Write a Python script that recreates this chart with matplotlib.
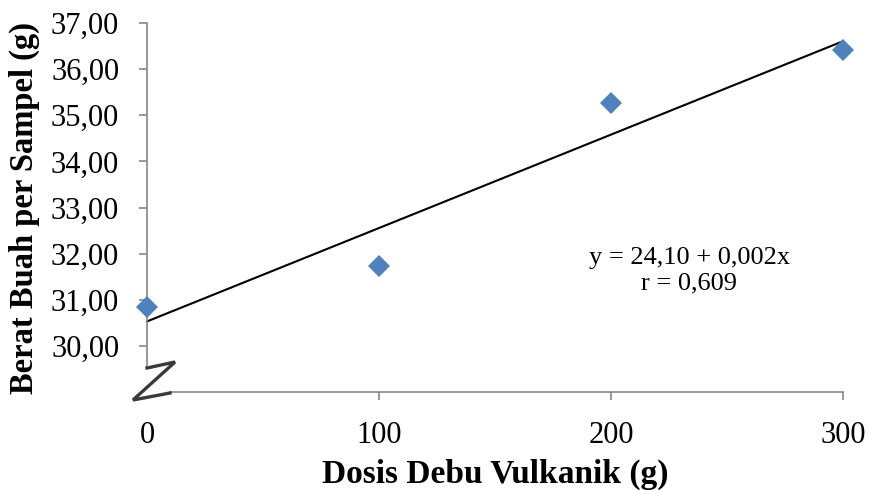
import numpy as np
import matplotlib
matplotlib.use("Agg")
import matplotlib.pyplot as plt
from matplotlib.lines import Line2D

# Data
dosis = [0, 100, 200, 300]
berat = [30.85, 31.73, 35.27, 36.42]
yticks = [30, 31, 32, 33, 34, 35, 36, 37]
xticks = [0, 100, 200, 300]
eq_text = "y = 24,10 + 0,002x\nr = 0,609"
xlabel = "Dosis Debu Vulkanik (g)"
ylabel = "Berat Buah per Sampel (g)"

plt.rcParams['font.family'] = ['Liberation Serif', 'DejaVu Serif']

W, H = 869, 490
fig = plt.figure(figsize=(W / 100, H / 100), dpi=100)
ax = fig.add_axes([147 / W, (H - 392) / H, (843 - 147) / W, (392 - 23) / H])

ax.set_xlim(0, 300)
ax.set_ylim(29.0, 37.0)

# trend line from fit
coef = np.polyfit(dosis, berat, 1)
xs = np.array([0, 300])
ax.plot(xs, np.polyval(coef, xs), color='black', lw=1.5, zorder=2, clip_on=False)

ax.plot(dosis, berat, linestyle='none', marker='D', markersize=11,
        color='#4F81BD', markeredgewidth=0, zorder=3, clip_on=False)

spine_col = '#868686'
for s in ['top', 'right']:
    ax.spines[s].set_visible(False)
for s in ['left', 'bottom']:
    ax.spines[s].set_color(spine_col)
    ax.spines[s].set_linewidth(1.2)
ax.spines['left'].set_bounds(29.55, 37)
ax.spines['bottom'].set_bounds(9.9, 300)

ax.set_yticks(yticks)
ax.set_yticklabels([f"{v:.2f}".replace('.', ',') for v in yticks])
ax.set_xticks(xticks)
ax.set_xticklabels([str(v) for v in xticks])
ax.tick_params(axis='both', colors=spine_col, labelcolor='black', direction='out',
               length=6, width=1.2, labelsize=22)
ax.tick_params(axis='y', pad=14)
ax.tick_params(axis='x', pad=15)
ax.xaxis.get_major_ticks()[0].tick1line.set_visible(False)

ax.set_xlabel(xlabel, fontsize=24, fontweight='bold', labelpad=6)
ax.set_ylabel(ylabel, fontsize=23.5, fontweight='bold', labelpad=8)

ax.text(0.779, 0.328, eq_text, transform=ax.transAxes, ha='center', va='center',
        fontsize=19, linespacing=1.2)

# axis break symbol
px = np.array([147, 175, 133, 170])
py = np.array([368, 362, 400, 393])
fig.add_artist(Line2D(px / W, 1 - py / H, transform=fig.transFigure,
                      color='#3a3a3a', lw=2.4, solid_joinstyle='miter'))

fig.savefig('out.png', dpi=100)
